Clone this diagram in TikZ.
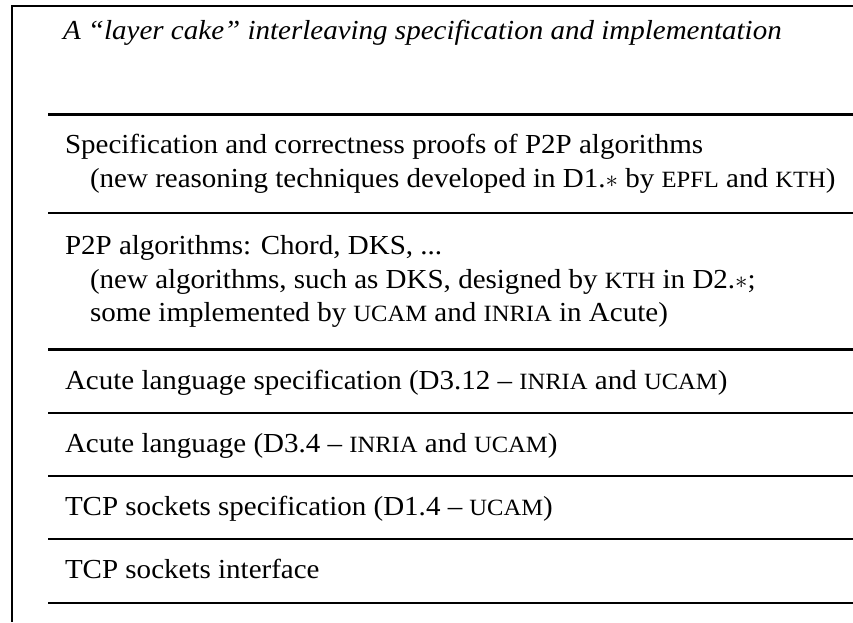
\documentclass[tikz,border=0pt]{standalone}
\usepackage{fontspec}
\setmainfont{Liberation Serif}[FakeStretch=1.055]
\newcommand\smc[1]{{\fontsize{23.3pt}{34pt}\selectfont #1}}
\begin{document}
\begin{tikzpicture}[x=1pt,y=-1pt,
  txt/.style={anchor=base west,inner sep=0pt,outer sep=0pt,font=\fontsize{27.5pt}{34pt}\selectfont},
  frame/.style={line width=2.6pt,line join=miter,line cap=butt},
  rule/.style={line width=2.3pt,line cap=butt}]
\useasboundingbox (0,0) rectangle (853,622);
% frame
\coordinate (tr) at (853,6);
\coordinate (tl) at (12,6);
\coordinate (bl) at (12,622);
\draw[frame] (tr) -- (tl) -- (bl);
% separators
\foreach \y/\w [count=\i] in {114/3,213/2.6,349/3,413/2.4,476/2.4,539/2.4,603/2.4}{
  \coordinate (l\i) at (48,\y);
  \coordinate (r\i) at (853,\y);
  \draw[rule,line width=\w pt] (l\i) -- (r\i);
}
% texts
\node[txt] (title) at (63,39) {\textit{A “layer cake” interleaving specification and implementation}};
\node[txt] (s1) at (65,153) {Specification and correctness proofs of P2P algorithms};
\node[txt] (s2) at (90,187) {(new reasoning techniques developed in D1.$\ast$ by \smc{EPFL} and \smc{KTH})};
\node[txt] (p1) at (65,254) {P2P algorithms: Chord, DKS, ...};
\node[txt] (p2) at (90,288) {(new algorithms, such as DKS, designed by \smc{KTH} in D2.$\ast$;};
\node[txt] (p3) at (90,321) {some implemented by \smc{UCAM} and \smc{INRIA} in Acute)};
\node[txt] (a1) at (65,389) {Acute language specification (D3.12 – \smc{INRIA} and \smc{UCAM})};
\node[txt] (a2) at (65,452) {Acute language (D3.4 – \smc{INRIA} and \smc{UCAM})};
\node[txt] (t1) at (65,515) {TCP sockets specification (D1.4 – \smc{UCAM})};
\node[txt] (t2) at (65,578) {TCP sockets interface};
\end{tikzpicture}
\end{document}
